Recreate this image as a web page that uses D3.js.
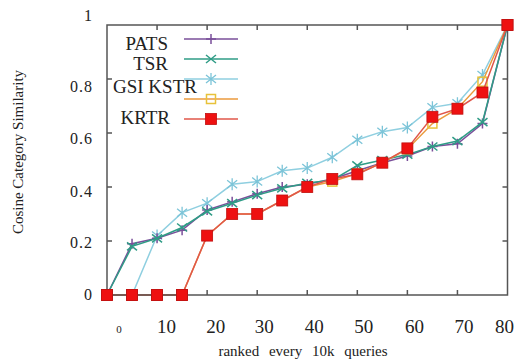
<!DOCTYPE html>
<html>
<head>
<meta charset="utf-8">
<script src="https://cdn.jsdelivr.net/npm/d3@7"></script>
<style>
	body { margin: 0; background: #fff; }
	text { font-family: "Liberation Serif", "Times New Roman", serif; fill: #222; }
</style>
</head>
<body>
<svg id="chart" width="523" height="363"></svg>
<script>
// ranked every 10k queries
var xs = [0, 5, 10, 15, 20, 25, 30, 35, 40, 45, 50, 55, 60, 65, 70, 75, 80]

var pats = [0, 0.19, 0.21, 0.24, 0.315, 0.345, 0.375, 0.40, 0.41, 0.43, 0.46, 0.49, 0.515, 0.55, 0.56, 0.635, 1]
var tsr  = [0, 0.18, 0.21, 0.25, 0.31, 0.34, 0.37, 0.395, 0.415, 0.425, 0.48, 0.50, 0.52, 0.55, 0.57, 0.64, 1]
var gsi  = [0, 0, 0.22, 0.305, 0.34, 0.41, 0.42, 0.46, 0.47, 0.51, 0.575, 0.605, 0.62, 0.695, 0.71, 0.815, 1]
var kstr = [0, 0, 0, 0, 0.22, 0.30, 0.30, 0.35, 0.40, 0.42, 0.45, 0.49, 0.54, 0.635, 0.69, 0.79, 1]
var krtr = [0, 0, 0, 0, 0.22, 0.30, 0.30, 0.35, 0.40, 0.43, 0.447, 0.49, 0.543, 0.66, 0.69, 0.75, 1]

var xTicks = [0, 10, 20, 30, 40, 50, 60, 70, 80]
var yTicks = [0, 0.2, 0.4, 0.6, 0.8, 1]
var legendNames = ["PATS", "TSR", "GSI KSTR", "", "KRTR"]

var series = [
	{name: "GSI", values: gsi, line: "#8fcfe0", marker: "star", color: "#7cc4d8"},
	{name: "PATS", values: pats, line: "#7a4f9a", marker: "plus", color: "#7a4f9a"},
	{name: "TSR", values: tsr, line: "#2f9c86", marker: "cross", color: "#2f9c86"},
	{name: "KSTR", values: kstr, line: "#eb9a3c", marker: "open", color: "#e8c23a"},
	{name: "KRTR", values: krtr, line: "#e0574a", marker: "filled", color: "#ee1111"}
]
// legend order differs from draw order
var legendSeries = [series[1], series[2], series[0], series[3], series[4]]

var svg = d3.select("#chart")
var x = d3.scaleLinear().domain([0, 80]).range([107, 507.5])
var y = d3.scaleLinear().domain([0, 1]).range([295, 25])

function drawMarker(g, kind, color, cx, cy) {
	if (kind == "plus") {
		g.append("path").attr("d", "M" + (cx - 5) + "," + cy + "h10M" + cx + "," + (cy - 5) + "v10")
		.attr("stroke", color).attr("stroke-width", 1.5)
	} else if (kind == "cross") {
		g.append("path").attr("d", "M" + (cx - 5) + "," + (cy - 4) + "l10,8M" + (cx - 5) + "," + (cy + 4) + "l10,-8")
		.attr("stroke", color).attr("stroke-width", 1.5)
	} else if (kind == "star") {
		g.append("path").attr("d", "M" + (cx - 5) + "," + (cy - 4) + "l10,8M" + (cx - 5) + "," + (cy + 4) + "l10,-8M" + cx + "," + (cy - 6) + "v12")
		.attr("stroke", color).attr("stroke-width", 1.3)
	} else if (kind == "open") {
		g.append("rect").attr("x", cx - 4.5).attr("y", cy - 4.5).attr("width", 9).attr("height", 9)
		.attr("fill", "none").attr("stroke", color).attr("stroke-width", 1.5)
	} else {
		g.append("rect").attr("x", cx - 5.5).attr("y", cy - 5.5).attr("width", 11).attr("height", 11)
		.attr("fill", color).attr("stroke", "#c01010").attr("stroke-width", 0.8)
	}
}

// series
var line = d3.line().x(d => x(d[0])).y(d => y(d[1]))
for (let s of series) {
	let pts = xs.map((v, i) => [v, s.values[i]])
	let g = svg.append("g")
	g.append("path")
	.attr("d", line(pts))
	.attr("fill", "none")
	.attr("stroke", s.line)
	.attr("stroke-width", 1.5)
	for (let p of pts)
		drawMarker(g, s.marker, s.color, x(p[0]), y(p[1]))
}

// frame and inward ticks
var axes = svg.append("g").attr("stroke", "#555").attr("stroke-width", 1.5)
axes.append("rect")
.attr("x", x(0)).attr("y", y(1))
.attr("width", x(80) - x(0)).attr("height", y(0) - y(1))
.attr("fill", "none")
axes.selectAll(".xt")
.data(xTicks.slice(1, -1))
.join("path")
.attr("d", d => "M" + x(d) + "," + y(0) + "v-5M" + x(d) + "," + y(1) + "v5")
axes.selectAll(".yt")
.data(yTicks.slice(1, -1))
.join("path")
.attr("d", d => "M" + x(0) + "," + y(d) + "h5M" + x(80) + "," + y(d) + "h-5")

// redraw the red squares sitting on the frame
var kr = series[4]
for (let i = 0; i < xs.length; i++)
	if (kr.values[i] == 0 || kr.values[i] == 1)
		drawMarker(svg, "filled", kr.color, x(xs[i]), y(kr.values[i]))

// tick labels (the original has slightly uneven label placement)
var yNudge = [1, 3, 6, 7, 9, -8]
svg.selectAll(".ylab")
.data(yTicks)
.join("text")
.attr("x", 93)
.attr("y", (d, i) => y(d) + yNudge[i])
.attr("text-anchor", "end")
.attr("dominant-baseline", "middle")
.attr("font-size", 16)
.attr("letter-spacing", 1)
.text(d => d == 0 || d == 1 ? d : d.toFixed(1))

var xNudge = [12, 9.5, 8.5, 7, 7, 6.5, 7, 6.5, -3]
svg.selectAll(".xlab")
.data(xTicks)
.join("text")
.attr("x", (d, i) => x(d) + xNudge[i])
.attr("y", 333)
.attr("text-anchor", "middle")
.attr("font-size", d => d == 0 ? 11 : 19)
.text(d => d)

svg.append("text")
.attr("x", 303).attr("y", 356)
.attr("text-anchor", "middle")
.attr("font-size", 15)
.attr("word-spacing", 6)
.text("ranked every 10k queries")

svg.append("text")
.attr("transform", "translate(23,152) rotate(-90)")
.attr("text-anchor", "middle")
.attr("font-size", 15)
.text("Cosine Category Similarity")

// legend
var legend = svg.append("g")
var rowY = [39, 59, 79, 99, 119]
var labelX = [168, 168, 113, 168, 170]
var labelY = [50, 70, 93, 0, 124]
legendSeries.forEach((s, i) => {
	legend.append("line")
	.attr("x1", 184).attr("x2", 238)
	.attr("y1", rowY[i]).attr("y2", rowY[i])
	.attr("stroke", s.line).attr("stroke-width", 1.5)
	drawMarker(legend, s.marker, s.color, 211, rowY[i])
	if (legendNames[i])
		legend.append("text")
		.attr("x", labelX[i]).attr("y", labelY[i])
		.attr("text-anchor", i == 2 ? "start" : "end")
		.attr("font-size", 19)
		.text(legendNames[i])
})
</script>
</body>
</html>
